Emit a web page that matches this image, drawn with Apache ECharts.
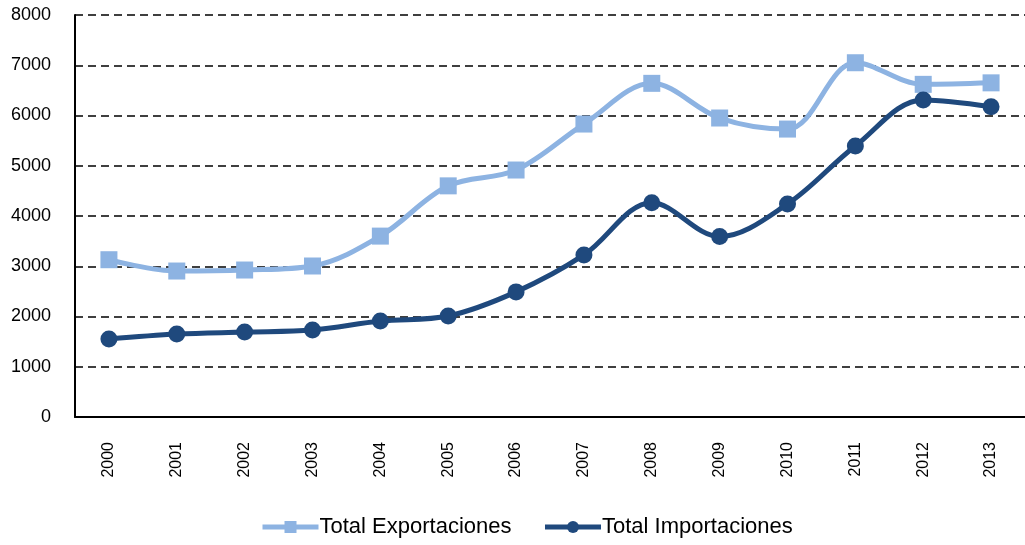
<!DOCTYPE html>
<html>
<head>
<meta charset="utf-8">
<script src="https://cdn.jsdelivr.net/npm/echarts@6/dist/echarts.min.js"></script>
<style>
  html, body { margin: 0; padding: 0; background: #fff; }
  #chart { width: 1025px; height: 545px; }
</style>
</head>
<body>
<div id="chart"></div>
<script>
// años y totales
const years = ['2000','2001','2002','2003','2004','2005','2006','2007','2008','2009','2010','2011','2012','2013']
const exportaciones = [3130, 2905, 2925, 3005, 3600, 4600, 4915, 5830, 6640, 5950, 5730, 7050, 6620, 6650]
const importaciones = [1550, 1650, 1690, 1730, 1910, 2010, 2490, 3225, 4265, 3590, 4240, 5395, 6310, 6175]

const COLOR_EXP = '#8db3e2'
const COLOR_IMP = '#1f497d'
const FONT = '"Liberation Sans", Arial, sans-serif'

const chart = echarts.init(document.getElementById('chart'))

chart.setOption({
  animation: false,
  grid: { left: 75, right: 0, top: 15, bottom: 128 },
  legend: {
    bottom: 2,
    left: 255,
    itemWidth: 56,
    itemHeight: 15,
    itemGap: 31,
    lineStyle: { width: 5 },
    textStyle: { fontFamily: FONT, fontSize: 22, color: '#000', padding: [0, 0, 0, -4] },
    data: ['Total Exportaciones', 'Total Importaciones'],
  },
  xAxis: {
    type: 'category',
    data: years,
    boundaryGap: true,
    axisLine: { lineStyle: { color: '#000', width: 2 } },
    axisTick: { show: false },
    axisLabel: { rotate: 90, margin: 25, fontFamily: FONT, fontSize: 16, color: '#000' },
  },
  yAxis: {
    type: 'value',
    min: 0, max: 8000, interval: 1000,
    axisLine: { show: true, lineStyle: { color: '#000', width: 2 } },
    axisTick: { show: false },
    axisLabel: { margin: 24, fontFamily: FONT, fontSize: 18, color: '#000', formatter: v => String(v) },
    splitLine: { lineStyle: { color: '#000', type: [8, 5], width: 1.6 } },
  },
  series: [
    {
      name: 'Total Exportaciones',
      type: 'line',
      data: exportaciones,
      smooth: 0.35,
      symbol: 'rect',
      symbolSize: 17,
      lineStyle: { color: COLOR_EXP, width: 5 },
      itemStyle: { color: COLOR_EXP },
    },
    {
      name: 'Total Importaciones',
      type: 'line',
      data: importaciones,
      smooth: 0.35,
      symbol: 'circle',
      symbolSize: 17,
      lineStyle: { color: COLOR_IMP, width: 5 },
      itemStyle: { color: COLOR_IMP },
    },
  ],
})
</script>
</body>
</html>
